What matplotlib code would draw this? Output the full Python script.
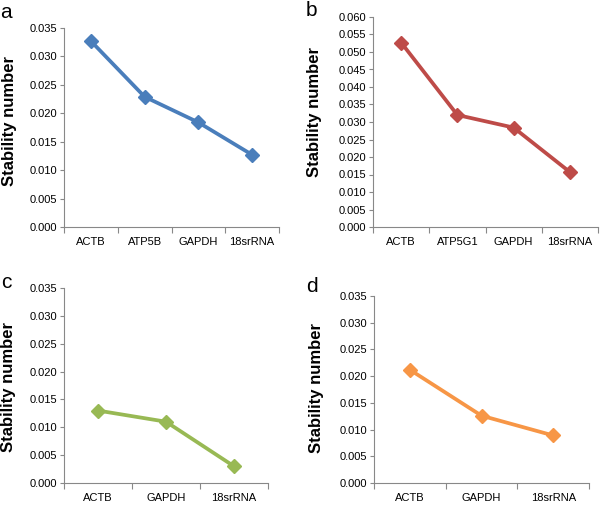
import numpy as np
import matplotlib.pyplot as plt
from matplotlib.ticker import FixedLocator

plt.rcParams['font.family'] = ['Liberation Sans', 'DejaVu Sans']

# panel data
genes_a = ["ACTB", "ATP5B", "GAPDH", "18srRNA"]
vals_a = [0.0327, 0.0229, 0.0184, 0.0127]

genes_b = ["ACTB", "ATP5G1", "GAPDH", "18srRNA"]
vals_b = [0.0527, 0.0320, 0.0284, 0.0157]

genes_c = ["ACTB", "GAPDH", "18srRNA"]
vals_c = [0.0130, 0.0110, 0.0030]

genes_d = ["ACTB", "GAPDH", "18srRNA"]
vals_d = [0.0212, 0.0126, 0.0089]

W, H = 600, 505
fig = plt.figure(figsize=(6, 5.05), dpi=100)


def make_panel(box, letter, letter_xy, label_xy, genes, vals, color, ymax):
    l, r, t, b = box
    ax = fig.add_axes([l / W, 1 - b / H, (r - l) / W, (b - t) / H])
    x = np.arange(len(genes))
    ax.plot(x, vals, color=color, lw=2.7, marker='D', ms=7,
            markeredgecolor=color, solid_capstyle='round')
    ax.set_xlim(-0.5, len(genes) - 0.5)
    ax.set_ylim(0, ymax)
    yt = np.arange(0, ymax + 1e-9, 0.005)
    ax.set_yticks(yt)
    ax.set_yticklabels(["%.3f" % v for v in yt])
    ax.set_xticks(x)
    ax.set_xticklabels(genes)
    ax.xaxis.set_minor_locator(FixedLocator(np.arange(-0.5, len(genes), 1.0)))
    ax.tick_params(axis='x', which='major', length=0, pad=7, labelsize=8)
    ax.tick_params(axis='x', which='minor', length=4, color='#888888', width=0.8)
    ax.tick_params(axis='y', length=3, color='#888888', width=0.8, pad=2,
                   labelsize=8)
    for s in ['top', 'right']:
        ax.spines[s].set_visible(False)
    for s in ['left', 'bottom']:
        ax.spines[s].set_color('#888888')
        ax.spines[s].set_linewidth(0.8)
    ax.set_ylabel("Stability number", fontsize=12, fontweight='bold')
    ax.yaxis.label.set_va('center')
    ax.yaxis.set_label_coords((label_xy[0] - l) / (r - l),
                              (b - label_xy[1]) / (b - t))
    fig.text(letter_xy[0] / W, 1 - letter_xy[1] / H, letter, fontsize=15,
             ha='left', va='center')
    return ax


make_panel((64, 279, 28, 227), "a", (0, 13), (10, 121),
           genes_a, vals_a, '#4A7EBB', 0.035)
make_panel((373, 598, 17, 227), "b", (306, 10), (314, 112),
           genes_b, vals_b, '#BE4B48', 0.060)
make_panel((64, 268, 288, 483), "c", (1, 282), (9, 387),
           genes_c, vals_c, '#98B954', 0.035)
make_panel((374, 589, 296, 483), "d", (306, 286), (316, 388),
           genes_d, vals_d, '#F79646', 0.035)

fig.savefig("out.png", dpi=100)
